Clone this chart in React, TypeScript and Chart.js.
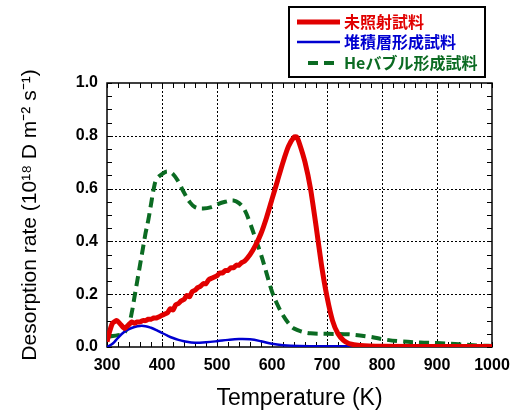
import React, { useEffect, useRef } from "react";
import { Chart, registerables } from "chart.js";
Chart.register(...registerables);

// ---- data ----
const redTemp = [300, 305, 310, 318, 325, 332, 340, 345, 350, 355, 360, 365, 370, 375, 380, 385, 390, 395, 400, 405, 410, 415, 420, 425, 430, 435, 440, 445, 450, 455, 460, 465, 470, 475, 480, 485, 490, 495, 500, 505, 510, 515, 520, 525, 530, 535, 540, 545, 550, 560, 570, 580, 590, 600, 610, 620, 630, 640, 645, 650, 660, 670, 680, 690, 700, 710, 720, 730, 740, 760, 800, 900, 1000];
const redRate = [0.02, 0.06, 0.09, 0.10, 0.085, 0.07, 0.085, 0.095, 0.09, 0.095, 0.095, 0.10, 0.10, 0.105, 0.105, 0.11, 0.11, 0.115, 0.12, 0.125, 0.13, 0.145, 0.14, 0.16, 0.165, 0.175, 0.18, 0.195, 0.19, 0.21, 0.215, 0.225, 0.23, 0.24, 0.24, 0.255, 0.26, 0.265, 0.27, 0.28, 0.28, 0.29, 0.29, 0.30, 0.30, 0.31, 0.31, 0.32, 0.325, 0.35, 0.385, 0.43, 0.49, 0.56, 0.63, 0.70, 0.76, 0.795, 0.795, 0.77, 0.70, 0.60, 0.46, 0.31, 0.19, 0.10, 0.05, 0.025, 0.013, 0.006, 0.003, 0.002, 0.002];

const blueTemp = [300, 310, 320, 330, 340, 350, 360, 370, 380, 390, 400, 410, 420, 430, 440, 460, 480, 500, 520, 540, 560, 580, 600, 620, 650, 700, 1000];
const blueRate = [0.0, 0.012, 0.035, 0.055, 0.068, 0.076, 0.08, 0.079, 0.073, 0.064, 0.053, 0.043, 0.034, 0.027, 0.022, 0.016, 0.018, 0.022, 0.027, 0.03, 0.029, 0.022, 0.012, 0.007, 0.004, 0.003, 0.002];

const greenTemp = [305, 320, 330, 340, 345, 350, 355, 360, 365, 370, 375, 380, 385, 390, 400, 410, 420, 430, 440, 450, 460, 475, 490, 500, 515, 530, 540, 550, 560, 570, 580, 590, 600, 610, 620, 630, 640, 655, 670, 700, 740, 780, 800, 830, 870, 900, 940, 980, 1000];
const greenRate = [0.04, 0.045, 0.05, 0.09, 0.13, 0.19, 0.25, 0.31, 0.37, 0.43, 0.48, 0.54, 0.60, 0.635, 0.655, 0.665, 0.655, 0.625, 0.585, 0.55, 0.53, 0.525, 0.53, 0.54, 0.55, 0.555, 0.545, 0.52, 0.47, 0.41, 0.35, 0.28, 0.21, 0.16, 0.12, 0.09, 0.07, 0.058, 0.052, 0.05, 0.048, 0.038, 0.03, 0.022, 0.017, 0.015, 0.01, 0.005, 0.004];

const xTickValues = [300, 400, 500, 600, 700, 800, 900, 1000];
const yTickValues = [0, 0.2, 0.4, 0.6, 0.8, 1.0];
const seriesNames = ["未照射試料", "堆積層形成試料", "Heバブル形成試料"];
const xTitle = "Temperature (K)";
const yTitle = "Desorption rate (10¹⁸ D m⁻² s⁻¹)";

const RED = "#e10000";
const BLUE = "#0000d0";
const GREEN = "#0b6b22";
const FONT = "'Liberation Sans', Arial, sans-serif";

const toPoints = (xs: number[], ys: number[]) => xs.map((x, i) => ({ x, y: ys[i] }));

const framePlugin = {
  id: "frameGrid",
  beforeDatasetsDraw(chart: any) {
    const { ctx, chartArea, scales } = chart;
    const { left, right, top, bottom } = chartArea;
    const xs = scales.x;
    const ys = scales.y;
    ctx.save();
    ctx.strokeStyle = "#000";
    ctx.lineWidth = 1;
    ctx.setLineDash([2, 2]);
    xTickValues.forEach((v) => {
      if (v <= 300 || v >= 1000) return;
      const p = Math.round(xs.getPixelForValue(v)) + 0.5;
      ctx.beginPath();
      ctx.moveTo(p, top);
      ctx.lineTo(p, bottom);
      ctx.stroke();
    });
    yTickValues.forEach((v) => {
      if (v <= 0 || v >= 1) return;
      const p = Math.round(ys.getPixelForValue(v)) + 0.5;
      ctx.beginPath();
      ctx.moveTo(left, p);
      ctx.lineTo(right, p);
      ctx.stroke();
    });
    ctx.setLineDash([]);
    for (let k = 0; k <= 35; k++) {
      const p = Math.round(xs.getPixelForValue(300 + k * 20)) + 0.5;
      ctx.beginPath();
      ctx.moveTo(p, bottom);
      ctx.lineTo(p, bottom - 5);
      ctx.moveTo(p, top);
      ctx.lineTo(p, top + 5);
      ctx.stroke();
    }
    for (let k = 0; k <= 20; k++) {
      const p = Math.round(ys.getPixelForValue(k * 0.05)) + 0.5;
      ctx.beginPath();
      ctx.moveTo(left, p);
      ctx.lineTo(left + 5, p);
      ctx.moveTo(right, p);
      ctx.lineTo(right - 5, p);
      ctx.stroke();
    }
    ctx.lineWidth = 1.5;
    ctx.strokeRect(left, top, right - left, bottom - top);
    ctx.restore();
  },
};

const legendPlugin = {
  id: "boxLegend",
  afterDraw(chart: any) {
    const { ctx } = chart;
    ctx.save();
    ctx.lineWidth = 2;
    ctx.strokeStyle = "#000";
    ctx.strokeRect(289, 7, 196, 70);
    const rows = [
      { y: 22, color: RED, width: 5, dash: [] as number[], x0: 297 },
      { y: 42, color: BLUE, width: 2.5, dash: [] as number[], x0: 297 },
      { y: 63, color: GREEN, width: 4, dash: [10, 6], x0: 308 },
    ];
    rows.forEach((r, i) => {
      ctx.beginPath();
      ctx.strokeStyle = r.color;
      ctx.lineWidth = r.width;
      ctx.setLineDash(r.dash);
      ctx.moveTo(r.x0, r.y);
      ctx.lineTo(340, r.y);
      ctx.stroke();
      ctx.setLineDash([]);
      ctx.fillStyle = r.color;
      ctx.font = "bold 16px 'Noto Sans CJK JP', sans-serif";
      ctx.textBaseline = "middle";
      ctx.textAlign = "left";
      ctx.fillText(seriesNames[i], 344, r.y);
    });
    ctx.restore();
  },
};

export default function App() {
  const ref = useRef<HTMLCanvasElement | null>(null);
  useEffect(() => {
    document.body.style.margin = "0";
    const canvas = ref.current!;
    const chart = new Chart(canvas, {
      type: "line",
      data: {
        datasets: [
          {
            label: seriesNames[0],
            data: toPoints(redTemp, redRate),
            borderColor: RED,
            borderWidth: 5,
            pointRadius: 0,
            tension: 0.2,
            fill: false,
          },
          {
            label: seriesNames[1],
            data: toPoints(blueTemp, blueRate),
            borderColor: BLUE,
            borderWidth: 2.5,
            pointRadius: 0,
            tension: 0.4,
            fill: false,
          },
          {
            label: seriesNames[2],
            data: toPoints(greenTemp, greenRate),
            borderColor: GREEN,
            borderWidth: 4,
            borderDash: [10, 6],
            pointRadius: 0,
            tension: 0.4,
            fill: false,
          },
        ],
      },
      options: {
        responsive: false,
        animation: false,
        layout: { padding: { top: 83, right: 19, left: 0, bottom: 0 } },
        plugins: { legend: { display: false }, tooltip: { enabled: false } },
        scales: {
          x: {
            type: "linear",
            min: 300,
            max: 1000,
            afterBuildTicks: (s: any) => {
              s.ticks = xTickValues.map((v) => ({ value: v }));
            },
            afterFit: (s: any) => {
              s.height = 65;
              s.paddingLeft = 0;
              s.paddingRight = 0;
            },
            grid: { display: false, drawTicks: false },
            border: { display: false },
            ticks: {
              padding: 9,
              color: "#000",
              font: { family: FONT, size: 16, weight: "bold" },
              maxRotation: 0,
              autoSkip: false,
              callback: (v: any) => String(v),
            },
            title: {
              display: true,
              text: xTitle,
              color: "#000",
              font: { family: FONT, size: 23 },
              padding: { top: 2, bottom: 0 },
            },
          },
          y: {
            type: "linear",
            min: 0,
            max: 1,
            afterBuildTicks: (s: any) => {
              s.ticks = yTickValues.map((v) => ({ value: v }));
            },
            afterFit: (s: any) => {
              s.width = 107;
              s.paddingTop = 0;
              s.paddingBottom = 0;
            },
            grid: { display: false, drawTicks: false },
            border: { display: false },
            ticks: {
              padding: 9,
              color: "#000",
              font: { family: FONT, size: 16, weight: "bold" },
              autoSkip: false,
              callback: (v: any) => Number(v).toFixed(1),
            },
            title: {
              display: true,
              text: yTitle,
              color: "#000",
              font: { family: FONT, size: 21 },
              padding: { top: 18, bottom: 0 },
            },
          },
        },
      },
      plugins: [framePlugin, legendPlugin],
    } as any);
    return () => chart.destroy();
  }, []);
  return (
    <div style={{ width: 511, height: 412 }}>
      <canvas ref={ref} width={511} height={412} style={{ display: "block" }} />
    </div>
  );
}
